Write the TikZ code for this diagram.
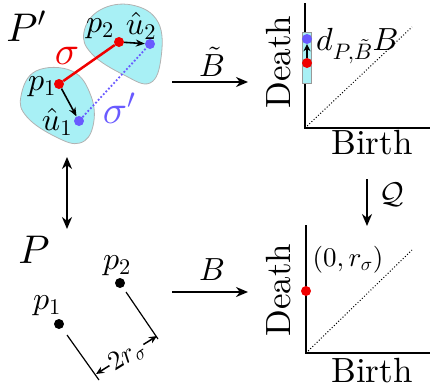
\documentclass[tikz,border=0pt]{standalone}
\usepackage{fix-cm}
\DeclareFontShape{TU}{lmr}{m}{n}{<->"[lmroman10-regular]:+tlig;"}{}
\DeclareFontShape{OML}{cmm}{m}{it}{<->cmmi10}{}
\DeclareFontShape{OT1}{cmr}{m}{n}{<->cmr10}{}
\DeclareFontShape{OMS}{cmsy}{m}{n}{<->cmsy10}{}
\usetikzlibrary{arrows.meta}
\newcommand\fsz[1]{\fontsize{#1}{#1}\selectfont}
\definecolor{blobcyan}{RGB}{168,240,245}
\definecolor{myred}{RGB}{240,0,0}
\definecolor{myblue}{RGB}{105,90,255}
\tikzset{
  lab/.style={inner sep=0pt, font=\fsz{32}},
  bigarrow/.style={line width=2.4pt, -{Stealth[length=12pt,width=10pt]}},
  axis/.style={line width=2.6pt},
  diag/.style={dotted, line width=1pt},
  rdot/.style={circle, fill=myred, inner sep=0pt, minimum size=10pt},
  bdot/.style={circle, fill=myblue, inner sep=0pt, minimum size=10pt},
  kdot/.style={circle, fill=black, inner sep=0pt, minimum size=10pt},
  blob/.style={fill=blobcyan, draw=black!30, line width=0.8pt},
}
\begin{document}
\begin{tikzpicture}[x=1pt,y=-1pt]
\useasboundingbox (0,0) rectangle (430,389);
% blobs
\draw[blob] plot[smooth cycle, tension=0.7] coordinates {(84,32) (100,10) (132,5) (158,22) (161,58) (150,83) (124,75) (92,54)};
\draw[blob] plot[smooth cycle, tension=0.7] coordinates {(21,96) (36,71) (72,71) (91,96) (93,126) (80,143) (56,137) (27,117)};
% points
\node[rdot] (p2) at (119,42) {};
\node[bdot] (u2) at (150,44) {};
\node[rdot] (p1) at (59,84) {};
\node[bdot] (u1) at (79,121) {};
\draw[myblue, dotted, line width=1.8pt] (u1) -- (u2);
\draw[myred, line width=2.5pt] (p1) -- (p2);
\draw[line width=1.6pt, -{Stealth[length=9pt,width=7pt]}] (p2) -- (u2);
\draw[line width=1.6pt, -{Stealth[length=9pt,width=7pt]}] (p1) -- (u1);
\node[lab, font=\fsz{40}] (Pp) at (26,26) {$P'$};
\node[lab] (p2l) at (100,29) {$p_2$};
\node[lab] (u2l) at (141,26) {$\hat u_2$};
\node[lab] (p1l) at (42,87) {$p_1$};
\node[lab] (u1l) at (57,122) {$\hat u_1$};
\node[lab, text=myred, font=\fsz{40}] (sig) at (67,56) {$\sigma$};
\node[lab, text=myblue, font=\fsz{40}] (sigp) at (119,108) {$\sigma'$};
% top arrow
\coordinate (ta1) at (172,82);
\coordinate (ta2) at (248,82);
\draw[bigarrow] (ta1) -- (ta2);
\node[lab] (Bt) at (212,62) {$\tilde B$};
% top plot
\coordinate (o1) at (305,128);
\coordinate (y1) at (305,3);
\coordinate (x1) at (430,128);
\coordinate (d1) at (412,27);
\draw[diag] (o1) -- (d1);
\draw[axis] (y1) -- (o1) -- (x1);
\node[fill=blobcyan, draw=black!40, line width=0.6pt, minimum width=9pt, minimum height=51pt, inner sep=0pt] (rect) at (306.5,57.5) {};
\node[bdot] (tb) at (307,39) {};
\node[rdot] (tr) at (307,63) {};
\draw[line width=1.6pt, -{Stealth[length=7pt,width=7pt]}] (tr) -- (tb);
\node[lab, anchor=west] (dl) at (316,46) {$d_{P,\tilde B}B$};
\node[lab, font=\fsz{35}, rotate=90] (death1) at (279,62) {Death};
\node[lab, font=\fsz{35}] (birth1) at (372,143) {Birth};
% Q arrow
\coordinate (qa1) at (367,179);
\coordinate (qa2) at (367,226);
\draw[bigarrow] (qa1) -- (qa2);
\node[lab, font=\fsz{30}] (Q) at (392,195) {$\mathcal{Q}$};
% bottom plot
\coordinate (o2) at (306,353);
\coordinate (y2) at (306,225);
\coordinate (x2) at (430,353);
\coordinate (d2) at (412,250);
\draw[diag] (o2) -- (d2);
\draw[axis] (y2) -- (o2) -- (x2);
\node[rdot] (br) at (306,291) {};
\node[lab, font=\fsz{27}] (rl) at (348,260) {$(0,r_\sigma)$};
\node[lab, font=\fsz{35}, rotate=90] (death2) at (279,290) {Death};
\node[lab, font=\fsz{35}] (birth2) at (372,371) {Birth};
% B arrow
\coordinate (ba1) at (172,292);
\coordinate (ba2) at (248,292);
\draw[bigarrow] (ba1) -- (ba2);
\node[lab] (Bl) at (212,270) {$B$};
% double arrow
\coordinate (da1) at (67,157);
\coordinate (da2) at (67,229);
\draw[line width=2.2pt, {Stealth[length=12pt,width=10pt]}-{Stealth[length=12pt,width=10pt]}] (da1) -- (da2);
% bottom points
\node[lab, font=\fsz{40}] (P) at (34,250) {$P$};
\node[kdot] (q2) at (120,283) {};
\node[kdot] (q1) at (59,324) {};
\node[lab] (q2l) at (117,266) {$p_2$};
\node[lab] (q1l) at (47,306) {$p_1$};
\coordinate (e1a) at (126,292);
\coordinate (e1b) at (158,339);
\coordinate (e2a) at (67,335);
\coordinate (e2b) at (99,380);
\draw[line width=1.2pt] (e1a) -- (e1b);
\draw[line width=1.2pt] (e2a) -- (e2b);
\coordinate (m1) at (96,374);
\coordinate (m2) at (157,336);
\draw[line width=1.5pt, {Stealth[length=8pt,width=7pt]}-{Stealth[length=8pt,width=7pt]}] (m1) -- (m2);
\node[lab, font=\fsz{27}, rotate=32, fill=white, inner sep=1pt] (dim) at (127,356) {$2r_\sigma$};
\end{tikzpicture}
\end{document}
